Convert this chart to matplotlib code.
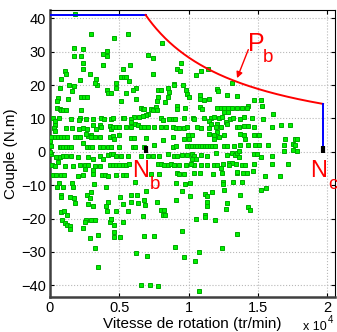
import numpy as np
import matplotlib
matplotlib.use('Agg')
import matplotlib.pyplot as plt

plt.rcParams['font.family'] = ['Liberation Sans', 'DejaVu Sans']

# points de fonctionnement (vitesse en 10^3 tr/min, couple en N.m)
vitesse_k = [
    1.78, 2.94, 1.73, 2.36, 4.09, 3.82, 4.09, 1.73, 2.21, 2.38, 3.82, 1.06, 1.13, 2.86, 2.36,
    0.82, 2.16, 3.30, 3.39, 3.22, 1.35, 1.73, 1.59, 4.09, 4.18, 4.38, 0.72, 0.58, 0.53, 1.30,
    2.21, 2.45, 2.69, 0.53, 0.70, 0.77, 0.94, 1.18, 2.21, 0.22, 0.34, 0.38, 0.29, 0.38, 0.63,
    1.49, 2.14, 2.62, 3.10, 3.70, 3.90, 4.38, 2.07, 3.10, 3.59, 3.70, 3.34, 2.69, 2.94, 1.18,
    1.59, 2.07, 2.38, 4.31, 4.38, 0.10, 0.34, 0.58, 0.82, 1.01, 1.25, 1.78, 2.02, 2.14, 2.74,
    2.98, 3.22, 3.59, 4.31, 2.62, 2.38, 0.00, 0.70, 0.82, 0.94, 1.18, 1.35, 1.49, 2.69, 2.86,
    3.03, 3.59, 3.82, 4.18, 4.38, 0.05,
    0.10, 0.46, 0.70, 0.94, 1.18, 1.49, 2.02, 2.74, 3.10, 3.59, 3.82, 4.18, 4.42, 0.00, 0.58,
    0.14, 0.34, 1.10, 1.66, 2.14, 2.50, 2.74, 3.22, 3.59, 4.31, 3.10, 2.50, 0.22, 0.46, 0.77,
    1.01, 2.02, 2.38, 3.10, 3.75, 3.99, 4.18, 0.65, 1.59, 3.17, 0.53, 0.94, 1.66, 4.06, 2.98,
    0.77, 0.82, 1.42, 1.73, 2.69, 2.86, 3.10, 2.74, 1.83, 4.18, 4.06, 0.82, 1.01, 1.25, 4.09,
    0.87, 2.62, 2.94, 3.22, 4.38, 4.31, 2.50, 1.06, 1.25, 1.42, 1.42, 2.38, 2.86, 3.46, 3.22,
    3.46,
    4.64, 5.65, 8.06, 7.05, 7.41, 5.24, 5.80, 5.12, 5.32, 5.48, 7.41, 4.76, 4.76, 5.72, 6.20,
    5.97, 5.48, 6.20, 5.12, 7.77, 8.00, 8.54, 8.60, 8.49, 7.77, 7.72, 8.30, 8.97, 6.57, 6.69,
    6.80, 7.29, 7.41, 7.05, 6.93, 6.69, 7.65, 7.72, 6.08, 5.84, 6.44, 4.52, 5.24, 5.36, 8.00,
    8.12, 8.60, 8.85, 9.00, 5.84, 6.13, 6.33, 4.52, 4.76, 5.00, 5.48, 5.84, 6.57, 6.80, 7.05,
    7.53, 8.00, 8.37, 8.85, 4.52, 4.64, 5.00, 5.84, 6.04, 6.93, 8.12, 8.85, 4.40, 5.00, 5.97,
    6.13, 6.80, 7.53, 8.85,
    4.52, 4.76, 5.12, 5.60, 6.57, 7.05, 7.41, 7.89, 8.49, 8.97, 4.52, 4.76, 5.00, 5.24, 5.48,
    5.72, 7.77, 8.00, 8.25, 8.49, 8.73, 8.97, 7.29, 7.89, 4.76, 5.24, 5.48, 6.13, 6.93, 5.07,
    5.84, 6.28, 6.80, 5.24, 5.84, 6.33, 6.85, 7.72, 4.74, 5.60, 8.00, 8.20, 8.13, 8.30, 6.73,
    4.40, 5.24, 4.64, 4.60, 4.64, 5.07, 6.76, 7.48, 6.20, 7.00, 6.57, 7.24, 7.77, 9.02,
    9.43, 9.19, 9.38, 10.5, 10.9, 11.4, 13.1, 8.95, 9.62, 12.07, 12.1, 12.8, 9.79, 9.91, 10.03,
    10.8, 10.8, 11.1, 11.5, 9.14, 9.19, 9.72, 10.8, 10.99, 12.07, 12.3, 12.55, 12.84, 13.15, 13.47,
    12.55, 12.84, 9.67, 10.3, 10.4, 11.1, 11.6, 11.8, 12.2, 12.4, 13.0, 13.2, 11.5, 11.6, 12.07,
    12.7, 12.8, 9.07, 9.31, 9.67, 9.91, 10.6, 10.9, 11.5, 12.0, 12.3, 13.5, 12.07, 11.5, 11.8,
    9.96, 10.27, 9.67, 10.03, 11.8, 12.2, 12.55, 9.07, 9.91, 10.1, 10.27, 10.44, 10.63, 10.82, 10.99,
    11.16, 11.35, 11.54, 11.7, 11.88, 12.55, 12.75, 13.28,
    9.19, 9.55, 9.86, 10.27, 10.39, 10.87, 11.3, 11.96, 12.8, 13.15, 13.33, 13.5, 10.27, 10.51, 12.9,
    13.15, 8.95, 9.31, 9.79, 10.39, 10.87, 11.35, 11.83, 12.07, 12.5, 12.9, 13.4, 12.3, 10.15, 9.14,
    9.31, 9.67, 10.39, 10.82, 11.78, 12.43, 13.47, 9.07, 9.72, 10.1, 12.5, 12.5, 13.2, 9.55, 10.1,
    11.2, 11.3, 11.7, 12.55, 9.07, 11.35, 11.35, 12.75, 12.68, 11.2, 11.2, 10.5, 11.9, 13.5, 9.55,
    12.4, 9.67, 10.75, 10.44, 10.75,
    13.5, 14.7, 15.2, 14.3, 14.2, 13.85, 15.3, 16.1, 14.0, 13.7, 14.6, 15.4, 16.7, 17.3, 16.0,
    13.6, 14.0, 14.3, 14.7, 13.97, 13.7, 14.7, 14.98, 15.1, 14.1, 16.98, 17.7, 17.8, 13.7, 14.3,
    14.8, 15.1, 15.7, 16.9, 17.5, 17.7,
    13.6, 14.7, 14.9, 15.2, 16.0, 16.9, 17.5, 17.8, 13.6, 13.85, 14.1, 14.7, 16.0, 17.15, 13.5,
    13.9, 14.2, 14.65, 15.5, 16.6, 13.85, 15.2, 15.6, 13.7, 14.3, 14.4,
]
couple = [
    41.2, 35.3, 31.2, 30.9, 30.3, 29.2, 28.7, 28.7, 28.6, 26.7, 26.1, 24.1, 23.2, 23.3, 24.9,
    21.7, 21.4, 21.9, 20.1, 20.7, 20.1, 19.7, 18.3, 18.4, 17.5, 17.5, 19.1, 16.1, 15.1, 15.9,
    16.4, 16.4, 16.4, 13.1, 12.7, 12.4, 12.4, 12.4, 12.4, 10.1, 9.1, 8.1, 7.1, 6.1, 10.2,
    9.7, 10.1, 9.7, 9.7, 10.1, 9.9, 9.9, 9.4, 8.1, 7.9, 7.4, 6.9, 6.9, 4.9, 7.1,
    7.1, 6.7, 7.1, 7.7, 6.9, 4.4, 4.4, 4.4, 4.4, 4.4, 4.3, 4.3, 4.3, 4.3, 4.7,
    4.3, 4.3, 4.3, 4.3, 5.4, 2.7, 3.1, 1.4, 1.4, 1.4, 1.4, 1.4, 1.4, 1.4, 1.4,
    1.4, 1.4, 1.4, 1.4, 1.4, 1.7,
    -0.6, -1.6, -1.6, -1.3, -1.3, -1.3, -1.6, -1.6, -2.1, -1.3, -2.1, -0.9, -0.6, -0.1, -2.9,
    -3.9, -4.3, -4.3, -4.3, -3.9, -3.9, -3.9, -4.1, -4.3, -3.9, -5.3, -5.1, -6.9, -6.9, -6.9,
    -6.9, -7.3, -6.9, -6.6, -6.9, -6.9, -7.3, -9.3, -9.3, -9.6, -10.4, -10.4, -10.4, -10.4, -11.9,
    -12.9, -13.6, -13.6, -13.9, -12.9, -13.9, -16.1, -15.6, -15.3, -15.1, -16.3, -17.9, -17.7, -18.9, -17.7,
    -20.3, -20.3, -20.3, -20.3, -20.1, -21.1, -21.1, -21.3, -21.9, -22.3, -23.1, -22.9, -25.7, -24.9, -28.7,
    -34.5,
    34.1, 35.4, 32.7, 28.9, 28.1, 24.9, 26.1, 22.3, 22.4, 22.5, 23.4, 20.7, 19.1, 21.1, 19.1,
    18.4, 17.7, 15.7, 15.3, 18.5, 18.5, 19.1, 17.9, 16.3, 16.4, 15.1, 14.9, 20.4, 13.1, 12.9,
    12.7, 12.9, 12.4, 11.4, 10.9, 10.7, 13.4, 12.4, 10.4, 9.9, 10.4, 10.1, 10.1, 10.0, 10.1,
    9.4, 9.7, 9.7, 9.7, 8.9, 8.4, 7.9, 7.4, 7.4, 7.4, 7.4, 7.4, 7.4, 7.4, 7.4,
    7.4, 7.4, 7.4, 7.4, 4.7, 3.7, 5.1, 4.1, 4.1, 4.1, 3.4, 4.4, 1.4, 1.4, 1.4,
    1.4, 1.4, 1.9, 1.4,
    -0.6, -1.3, -1.3, -1.3, -1.3, -1.3, -1.3, -1.3, -0.6, -1.3, -3.9, -3.9, -3.9, -3.9, -3.9,
    -3.6, -3.6, -3.6, -3.9, -3.9, -3.6, -3.9, -6.6, -6.6, -6.9, -6.9, -6.9, -8.9, -11.6, -13.6,
    -12.9, -12.9, -14.3, -15.6, -14.9, -15.3, -15.9, -15.1, -17.6, -17.6, -17.3, -17.3, -18.9, -18.9, -19.1,
    -20.1, -20.9, -21.9, -23.9, -25.6, -25.6, -25.3, -25.3, -30.3, -31.1, -39.9, -39.9, -40.1, -28.6,
    26.7, 24.9, 24.1, 22.9, 24.1, 24.9, 20.7, 20.1, 20.1, 18.9, 18.1, 17.1, 18.4, 17.4, 16.4,
    16.9, 15.7, 15.4, 15.7, 13.7, 12.9, 13.1, 13.4, 12.9, 13.1, 13.1, 13.1, 13.1, 13.1, 13.1,
    11.9, 11.9, 10.1, 10.1, 9.9, 10.1, 10.1, 10.3, 10.1, 10.3, 9.9, 10.1, 9.1, 8.4, 8.4,
    8.9, 8.4, 7.1, 7.1, 7.1, 7.3, 7.3, 7.1, 7.1, 7.5, 7.3, 7.5, 5.9, 5.4, 4.9,
    4.9, 4.9, 3.7, 3.7, 3.7, 4.4, 4.9, 1.7, 1.7, 1.7, 1.7, 1.7, 1.7, 1.7, 1.7,
    1.7, 1.7, 1.7, 1.7, 1.7, 1.7, 1.7, 1.7,
    -1.3, -0.9, -0.9, -0.6, -1.3, -0.9, -1.3, -0.3, -0.9, -0.3, -0.9, -0.3, -2.1, -2.1, -3.3,
    -3.3, -3.9, -3.9, -3.9, -3.9, -3.9, -3.9, -3.9, -3.9, -3.6, -3.9, -3.6, -4.9, -3.6, -6.4,
    -6.7, -6.7, -6.4, -6.4, -6.7, -6.4, -6.4, -9.3, -9.6, -9.3, -8.9, -9.6, -9.1, -11.6, -13.1,
    -12.6, -13.1, -11.9, -11.3, -14.3, -14.9, -16.3, -15.3, -17.1, -18.9, -19.6, -20.1, -20.3, -24.6, -23.6,
    -28.9, -31.6, -30.1, -32.6, -41.6,
    16.7, 15.4, 15.4, 13.6, 13.1, 13.1, 13.7, 11.4, 10.3, 9.9, 10.1, 9.9, 7.9, 7.9, 7.4,
    7.4, 7.7, 7.7, 7.4, 4.9, 5.4, 4.9, 4.9, 5.1, 3.9, 3.9, 3.9, 3.9, 1.9, 1.9,
    1.9, 1.9, 1.9, 1.9, 2.3, 1.9,
    0.1, -0.6, -0.6, -1.6, -1.3, 0.1, 0.4, 0.1, -1.6, -3.9, -3.9, -3.6, -3.6, -3.6, -5.9,
    -6.3, -6.3, -5.6, -7.3, -7.1, -8.9, -11.3, -10.9, -12.9, -16.6, -17.4,
]

# enveloppe couple / vitesse
couple_max = 41.0      # N.m
n_base = 6900          # tr/min (N_b)
n_max = 19700          # tr/min (N_c)
xtick_vals = [0, 5000, 10000, 15000, 20000]
xtick_labels = ['0', '0.5', '1', '1.5', '2']
ytick_vals = [-40, -30, -20, -10, 0, 10, 20, 30, 40]

vitesse = np.array(vitesse_k) * 1000
n_courbe = np.linspace(n_base, n_max, 200)
c_courbe = couple_max * n_base / n_courbe

fig = plt.figure(figsize=(3.37, 3.32), dpi=100)
ax = fig.add_axes([50 / 337, 1 - 297 / 332, 285 / 337, 287 / 332])

ax.grid(True, linestyle=':', color='#b8b8b8', linewidth=0.8)
ax.set_axisbelow(True)

ax.plot(vitesse, couple, 's', ms=3.0, mfc='#00f000', mec='#00a800', mew=0.7, zorder=3)

ax.plot([0, n_base], [couple_max, couple_max], color='#0000ff', lw=1.4, zorder=4)
ax.plot(n_courbe, c_courbe, color='#ff0000', lw=1.4, zorder=4)
ax.plot([n_max, n_max], [c_courbe[-1], 0], color='#0000ff', lw=1.4, zorder=4)
ax.plot([n_base, n_base], [-0.4, 1.6], color='k', lw=3, solid_capstyle='butt', zorder=5)
ax.plot([n_max, n_max], [-0.4, 1.6], color='k', lw=3, solid_capstyle='butt', zorder=5)

# annotations
ax.annotate('', xy=(13420, 21.3), xytext=(14380, 31.4),
            arrowprops=dict(arrowstyle='-|>', color='red', lw=1, mutation_scale=9), zorder=6)
ax.text(14300, 30.3, 'P', color='red', fontsize=18, va='baseline', ha='left', zorder=6)
ax.text(15370, 27.0, 'b', color='red', fontsize=13.5, va='baseline', ha='left', zorder=6)
ax.text(5930, -7.6, 'N', color='red', fontsize=17, va='baseline', ha='left', zorder=6)
ax.text(7200, -11.1, 'b', color='red', fontsize=13.5, va='baseline', ha='left', zorder=6)
ax.text(18800, -7.6, 'N', color='red', fontsize=17, va='baseline', ha='left', zorder=6,
        clip_on=False)
ax.text(20080, -11.1, 'c', color='red', fontsize=13.5, va='baseline', ha='left', zorder=6,
        clip_on=False)

ax.set_xlim(0, 20560)
ax.set_ylim(-43.5, 42.5)
ax.set_xticks(xtick_vals)
ax.set_xticklabels(xtick_labels)
ax.set_yticks(ytick_vals)
ax.tick_params(direction='in', length=3, width=0.8, labelsize=10.5, top=True, right=True,
               pad=3)

for s in ['left', 'bottom']:
    ax.spines[s].set_linewidth(1.8)
    ax.spines[s].set_color('#404040')
for s in ['top', 'right']:
    ax.spines[s].set_linewidth(0.8)
    ax.spines[s].set_color('k')

ax.set_xlabel('Vitesse de rotation (tr/min)', fontsize=11, labelpad=1)
ax.set_ylabel('Couple (N.m)', fontsize=11, labelpad=2)

fig.text(303 / 337, 1 - 330 / 332, 'x 10', fontsize=9, va='baseline', ha='left')
fig.text(328 / 337, 1 - 323 / 332, '4', fontsize=7, va='baseline', ha='left')

fig.savefig('out.png', dpi=100)
